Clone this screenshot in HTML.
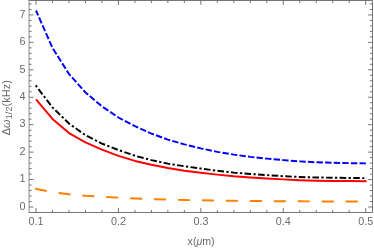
<!DOCTYPE html>
<html><head><meta charset="utf-8"><style>
html,body{margin:0;padding:0;background:#fff;overflow:hidden;width:374px;height:250px}
svg{display:block;position:absolute;left:0;top:0}
#txt{will-change:transform;background:transparent}
text{font-family:"Liberation Sans",sans-serif;font-size:10.8px;fill:#6a6a6a;}
</style></head><body>
<svg width="374" height="250" viewBox="0 0 374 250">
<rect x="0" y="0" width="374" height="250" fill="#fff"/>
<g stroke="#666" stroke-width="0.9" fill="none">
<path d="M28.6,0.5H372.5V212.5H28.6"/>
<line x1="29.1" y1="0.05" x2="29.1" y2="212.95" stroke-width="1" stroke="#8a8a8a"/>
<line x1="36.00" y1="212.5" x2="36.00" y2="208.1"/><line x1="36.00" y1="0.5" x2="36.00" y2="4.9"/><line x1="52.48" y1="212.5" x2="52.48" y2="209.9"/><line x1="52.48" y1="0.5" x2="52.48" y2="3.1"/><line x1="68.97" y1="212.5" x2="68.97" y2="209.9"/><line x1="68.97" y1="0.5" x2="68.97" y2="3.1"/><line x1="85.45" y1="212.5" x2="85.45" y2="209.9"/><line x1="85.45" y1="0.5" x2="85.45" y2="3.1"/><line x1="101.94" y1="212.5" x2="101.94" y2="209.9"/><line x1="101.94" y1="0.5" x2="101.94" y2="3.1"/><line x1="118.42" y1="212.5" x2="118.42" y2="208.1"/><line x1="118.42" y1="0.5" x2="118.42" y2="4.9"/><line x1="134.91" y1="212.5" x2="134.91" y2="209.9"/><line x1="134.91" y1="0.5" x2="134.91" y2="3.1"/><line x1="151.39" y1="212.5" x2="151.39" y2="209.9"/><line x1="151.39" y1="0.5" x2="151.39" y2="3.1"/><line x1="167.88" y1="212.5" x2="167.88" y2="209.9"/><line x1="167.88" y1="0.5" x2="167.88" y2="3.1"/><line x1="184.37" y1="212.5" x2="184.37" y2="209.9"/><line x1="184.37" y1="0.5" x2="184.37" y2="3.1"/><line x1="200.85" y1="212.5" x2="200.85" y2="208.1"/><line x1="200.85" y1="0.5" x2="200.85" y2="4.9"/><line x1="217.33" y1="212.5" x2="217.33" y2="209.9"/><line x1="217.33" y1="0.5" x2="217.33" y2="3.1"/><line x1="233.82" y1="212.5" x2="233.82" y2="209.9"/><line x1="233.82" y1="0.5" x2="233.82" y2="3.1"/><line x1="250.30" y1="212.5" x2="250.30" y2="209.9"/><line x1="250.30" y1="0.5" x2="250.30" y2="3.1"/><line x1="266.79" y1="212.5" x2="266.79" y2="209.9"/><line x1="266.79" y1="0.5" x2="266.79" y2="3.1"/><line x1="283.27" y1="212.5" x2="283.27" y2="208.1"/><line x1="283.27" y1="0.5" x2="283.27" y2="4.9"/><line x1="299.76" y1="212.5" x2="299.76" y2="209.9"/><line x1="299.76" y1="0.5" x2="299.76" y2="3.1"/><line x1="316.25" y1="212.5" x2="316.25" y2="209.9"/><line x1="316.25" y1="0.5" x2="316.25" y2="3.1"/><line x1="332.73" y1="212.5" x2="332.73" y2="209.9"/><line x1="332.73" y1="0.5" x2="332.73" y2="3.1"/><line x1="349.21" y1="212.5" x2="349.21" y2="209.9"/><line x1="349.21" y1="0.5" x2="349.21" y2="3.1"/><line x1="365.70" y1="212.5" x2="365.70" y2="208.1"/><line x1="365.70" y1="0.5" x2="365.70" y2="4.9"/><line x1="29.0" y1="207.00" x2="33.4" y2="207.00"/><line x1="372.5" y1="207.00" x2="368.1" y2="207.00"/><line x1="29.0" y1="201.51" x2="31.6" y2="201.51"/><line x1="372.5" y1="201.51" x2="369.9" y2="201.51"/><line x1="29.0" y1="196.02" x2="31.6" y2="196.02"/><line x1="372.5" y1="196.02" x2="369.9" y2="196.02"/><line x1="29.0" y1="190.54" x2="31.6" y2="190.54"/><line x1="372.5" y1="190.54" x2="369.9" y2="190.54"/><line x1="29.0" y1="185.05" x2="31.6" y2="185.05"/><line x1="372.5" y1="185.05" x2="369.9" y2="185.05"/><line x1="29.0" y1="179.56" x2="33.4" y2="179.56"/><line x1="372.5" y1="179.56" x2="368.1" y2="179.56"/><line x1="29.0" y1="174.07" x2="31.6" y2="174.07"/><line x1="372.5" y1="174.07" x2="369.9" y2="174.07"/><line x1="29.0" y1="168.59" x2="31.6" y2="168.59"/><line x1="372.5" y1="168.59" x2="369.9" y2="168.59"/><line x1="29.0" y1="163.10" x2="31.6" y2="163.10"/><line x1="372.5" y1="163.10" x2="369.9" y2="163.10"/><line x1="29.0" y1="157.61" x2="31.6" y2="157.61"/><line x1="372.5" y1="157.61" x2="369.9" y2="157.61"/><line x1="29.0" y1="152.12" x2="33.4" y2="152.12"/><line x1="372.5" y1="152.12" x2="368.1" y2="152.12"/><line x1="29.0" y1="146.64" x2="31.6" y2="146.64"/><line x1="372.5" y1="146.64" x2="369.9" y2="146.64"/><line x1="29.0" y1="141.15" x2="31.6" y2="141.15"/><line x1="372.5" y1="141.15" x2="369.9" y2="141.15"/><line x1="29.0" y1="135.66" x2="31.6" y2="135.66"/><line x1="372.5" y1="135.66" x2="369.9" y2="135.66"/><line x1="29.0" y1="130.17" x2="31.6" y2="130.17"/><line x1="372.5" y1="130.17" x2="369.9" y2="130.17"/><line x1="29.0" y1="124.68" x2="33.4" y2="124.68"/><line x1="372.5" y1="124.68" x2="368.1" y2="124.68"/><line x1="29.0" y1="119.20" x2="31.6" y2="119.20"/><line x1="372.5" y1="119.20" x2="369.9" y2="119.20"/><line x1="29.0" y1="113.71" x2="31.6" y2="113.71"/><line x1="372.5" y1="113.71" x2="369.9" y2="113.71"/><line x1="29.0" y1="108.22" x2="31.6" y2="108.22"/><line x1="372.5" y1="108.22" x2="369.9" y2="108.22"/><line x1="29.0" y1="102.73" x2="31.6" y2="102.73"/><line x1="372.5" y1="102.73" x2="369.9" y2="102.73"/><line x1="29.0" y1="97.25" x2="33.4" y2="97.25"/><line x1="372.5" y1="97.25" x2="368.1" y2="97.25"/><line x1="29.0" y1="91.76" x2="31.6" y2="91.76"/><line x1="372.5" y1="91.76" x2="369.9" y2="91.76"/><line x1="29.0" y1="86.27" x2="31.6" y2="86.27"/><line x1="372.5" y1="86.27" x2="369.9" y2="86.27"/><line x1="29.0" y1="80.78" x2="31.6" y2="80.78"/><line x1="372.5" y1="80.78" x2="369.9" y2="80.78"/><line x1="29.0" y1="75.29" x2="31.6" y2="75.29"/><line x1="372.5" y1="75.29" x2="369.9" y2="75.29"/><line x1="29.0" y1="69.81" x2="33.4" y2="69.81"/><line x1="372.5" y1="69.81" x2="368.1" y2="69.81"/><line x1="29.0" y1="64.32" x2="31.6" y2="64.32"/><line x1="372.5" y1="64.32" x2="369.9" y2="64.32"/><line x1="29.0" y1="58.83" x2="31.6" y2="58.83"/><line x1="372.5" y1="58.83" x2="369.9" y2="58.83"/><line x1="29.0" y1="53.34" x2="31.6" y2="53.34"/><line x1="372.5" y1="53.34" x2="369.9" y2="53.34"/><line x1="29.0" y1="47.86" x2="31.6" y2="47.86"/><line x1="372.5" y1="47.86" x2="369.9" y2="47.86"/><line x1="29.0" y1="42.37" x2="33.4" y2="42.37"/><line x1="372.5" y1="42.37" x2="368.1" y2="42.37"/><line x1="29.0" y1="36.88" x2="31.6" y2="36.88"/><line x1="372.5" y1="36.88" x2="369.9" y2="36.88"/><line x1="29.0" y1="31.39" x2="31.6" y2="31.39"/><line x1="372.5" y1="31.39" x2="369.9" y2="31.39"/><line x1="29.0" y1="25.91" x2="31.6" y2="25.91"/><line x1="372.5" y1="25.91" x2="369.9" y2="25.91"/><line x1="29.0" y1="20.42" x2="31.6" y2="20.42"/><line x1="372.5" y1="20.42" x2="369.9" y2="20.42"/><line x1="29.0" y1="14.93" x2="33.4" y2="14.93"/><line x1="372.5" y1="14.93" x2="368.1" y2="14.93"/><line x1="29.0" y1="9.44" x2="31.6" y2="9.44"/><line x1="372.5" y1="9.44" x2="369.9" y2="9.44"/><line x1="29.0" y1="3.95" x2="31.6" y2="3.95"/><line x1="372.5" y1="3.95" x2="369.9" y2="3.95"/>
</g>
<g fill="none" stroke-width="1.95" stroke-linejoin="round" stroke-linecap="butt">
<polyline points="36.00,10.51 52.48,47.89 68.97,74.01 85.45,92.39 101.94,106.32 118.42,117.49 134.91,126.13 151.39,133.57 167.88,139.62 184.37,144.34 200.85,148.42 217.33,151.84 233.82,154.63 250.31,156.87 266.79,158.64 283.27,160.12 299.76,161.36 316.25,162.27 332.73,162.81 349.21,163.16 366.60,163.40" stroke="#0000ff" stroke-dasharray="6.4,2.2" stroke-dashoffset="1.05"/>
<polyline points="35.64,85.36 52.48,107.42 68.97,123.49 85.45,135.24 101.94,143.54 118.42,150.01 134.91,155.69 151.39,160.12 167.88,163.59 184.37,166.29 200.85,168.57 217.33,170.76 233.82,172.61 250.31,173.94 266.79,175.09 283.27,176.18 299.76,176.99 316.25,177.46 332.73,177.74 349.21,177.95 366.60,178.16" stroke="#000" stroke-dasharray="2.3,2.35,6.6,2.35"/>
<polyline points="36.00,99.33 52.48,118.92 68.97,133.10 85.45,142.45 101.94,149.59 118.42,155.91 134.91,160.94 151.39,164.79 167.88,168.08 184.37,170.74 200.85,172.78 217.33,174.63 233.82,176.28 250.31,177.50 266.79,178.48 283.27,179.40 299.76,180.24 316.25,180.76 332.73,180.94 349.21,181.03 366.60,181.19" stroke="#ff0000"/>
<polyline points="35.21,188.74 52.48,192.11 68.97,194.32 85.45,195.81 101.94,196.79 118.42,197.64 134.91,198.42 151.39,199.08 167.88,199.65 184.37,200.05 200.85,200.29 217.33,200.58 233.82,200.83 250.31,200.99 266.79,201.10 283.27,201.22 299.76,201.33 316.25,201.41 332.73,201.50 349.21,201.57 366.60,201.61" stroke="#ff8000" stroke-dasharray="12.05,11.9" stroke-dashoffset="0.25"/>
</g>
</svg>
<svg id="txt" width="374" height="250" viewBox="0 0 374 250">
<text x="36.0" y="224.6" text-anchor="middle">0.1</text><text x="118.4" y="224.6" text-anchor="middle">0.2</text><text x="200.9" y="224.6" text-anchor="middle">0.3</text><text x="283.3" y="224.6" text-anchor="middle">0.4</text><text x="365.7" y="224.6" text-anchor="middle">0.5</text><text x="25.5" y="209.7" text-anchor="end">0</text><text x="25.5" y="182.3" text-anchor="end">1</text><text x="25.5" y="154.8" text-anchor="end">2</text><text x="25.5" y="127.4" text-anchor="end">3</text><text x="25.5" y="99.9" text-anchor="end">4</text><text x="25.5" y="72.5" text-anchor="end">5</text><text x="25.5" y="45.1" text-anchor="end">6</text><text x="25.5" y="17.6" text-anchor="end">7</text>
<text x="201.1" y="244.6" text-anchor="middle" style="font-size:10.6px">x(<tspan font-style="italic">μ</tspan>m)</text>
<text transform="translate(9.7,107.6) rotate(-90)" text-anchor="middle" style="font-size:10.8px;letter-spacing:0.14px">Δ<tspan font-style="italic">ω</tspan><tspan font-size="9" dy="2">1/2</tspan><tspan dy="-2">(kHz)</tspan></text>
</svg>
</body></html>
